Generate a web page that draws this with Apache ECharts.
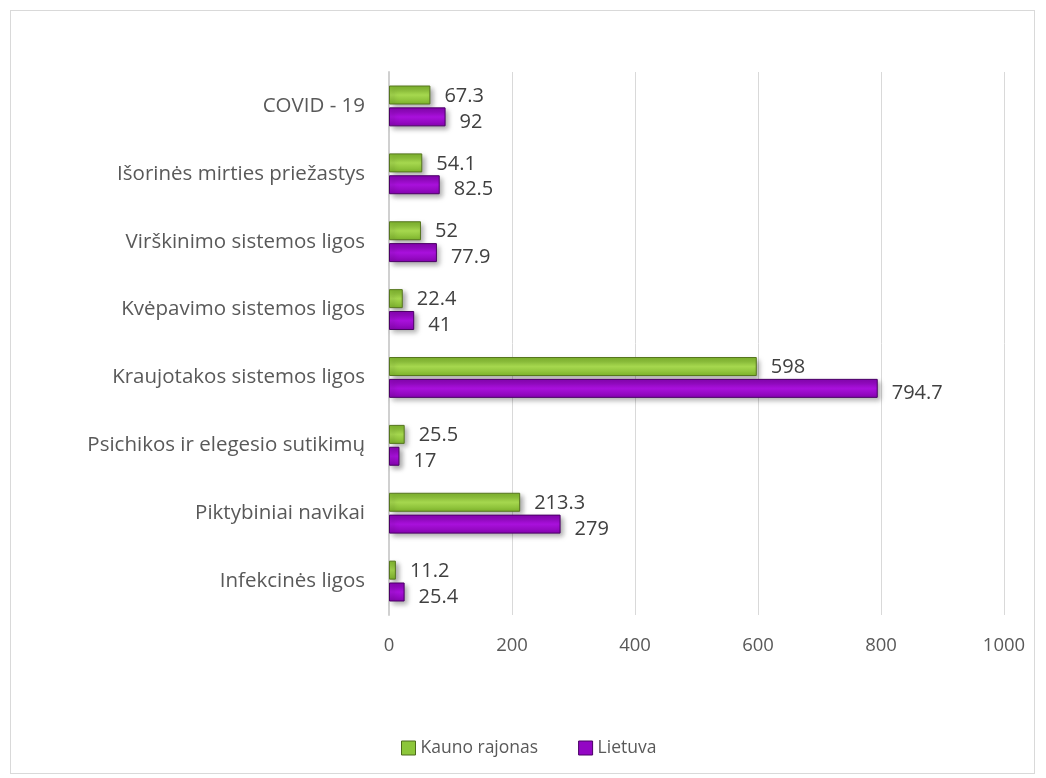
<!DOCTYPE html>
<html><head><meta charset="utf-8">
<script src="https://cdn.jsdelivr.net/npm/echarts@6/dist/echarts.min.js"></script>
<style>html,body{margin:0;padding:0;background:#fff}#c{width:1046px;height:778px}
#frame{position:absolute;left:10px;top:10px;width:1025px;height:764px;border:1px solid #d9d9d9;box-sizing:border-box;pointer-events:none}</style>
</head><body><div id="c"></div><div id="frame"></div>
<script>
const categories = ["Infekcinės ligos","Piktybiniai navikai","Psichikos ir elegesio sutikimų","Kraujotakos sistemos ligos","Kvėpavimo sistemos ligos","Virškinimo sistemos ligos","Išorinės mirties priežastys","COVID - 19"];
const kaunoRajonas = [11.2, 213.3, 25.5, 598, 22.4, 52, 54.1, 67.3];
const lietuva = [25.4, 279, 17, 794.7, 41, 77.9, 82.5, 92];
const seriesNames = ["Kauno rajonas","Lietuva"];
const xTicks = [0,200,400,600,800,1000];

const FONT = "'Open Sans', sans-serif";
const chart = echarts.init(document.getElementById('c'));
function grad(c1,c2){return new echarts.graphic.LinearGradient(0,0,0,1,[{offset:0,color:c1},{offset:0.5,color:c2},{offset:1,color:c1}]);}
chart.setOption({
  animation:false,
  textStyle:{fontFamily:FONT},
  grid:{left:389,right:42,top:72,bottom:163,containLabel:false},
  legend:{bottom:16,left:396,itemWidth:14,itemHeight:14,itemGap:40,
    textStyle:{fontSize:17.5,color:'#595959',fontFamily:FONT},
    data:[{name:seriesNames[0],icon:'rect',itemStyle:{color:'#8cc63a',borderColor:'#4d6b1c',borderWidth:1}},
          {name:seriesNames[1],icon:'rect',itemStyle:{color:'#9306c4',borderColor:'#4b0066',borderWidth:1}}]},
  xAxis:{type:'value',min:0,max:1000,interval:200,
    axisLine:{show:false},axisTick:{show:false},
    axisLabel:{fontSize:18.5,color:'#595959',margin:21,formatter:v=>xTicks.includes(v)?String(v):''},
    splitLine:{lineStyle:{color:'#d9d9d9',width:1}}},
  yAxis:{type:'category',data:categories,
    axisLine:{show:true,lineStyle:{color:'#d0d0d0',width:2}},axisTick:{show:false},
    axisLabel:{fontSize:20.5,color:'#595959',margin:24}},
  series:[
    {name:seriesNames[0],type:'bar',data:kaunoRajonas,barWidth:19,barGap:'15%',
     itemStyle:{color:grad('#7db32c','#a6d84f'),borderColor:'#56761f',borderWidth:1,
       shadowColor:'rgba(0,0,0,0.35)',shadowBlur:5,shadowOffsetX:3,shadowOffsetY:3},
     label:{show:true,position:'right',distance:14,offset:[0,1],fontSize:20,color:'#404040',fontFamily:FONT}},
    {name:seriesNames[1],type:'bar',data:lietuva,barWidth:19,
     itemStyle:{color:grad('#8604b0','#a911dc'),borderColor:'#4b0066',borderWidth:1,
       shadowColor:'rgba(0,0,0,0.35)',shadowBlur:5,shadowOffsetX:3,shadowOffsetY:3},
     label:{show:true,position:'right',distance:14,offset:[0,5],fontSize:20,color:'#404040',fontFamily:FONT}}
  ]
});
</script></body></html>
